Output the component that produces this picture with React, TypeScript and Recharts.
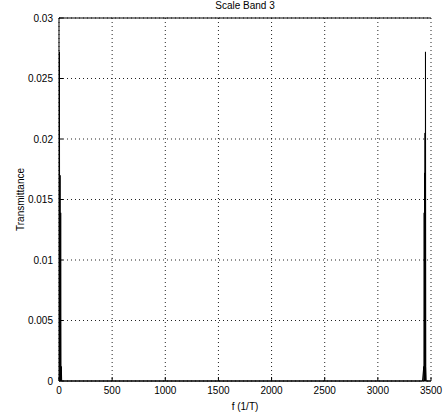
import React from 'react';
import { LineChart, Line, XAxis, YAxis, CartesianGrid } from 'recharts';

const freqs = [0, 4, 7, 10, 13, 16, 19, 22, 25, 35, 1000, 2000, 3000, 3420, 3432, 3434, 3436, 3438, 3440, 3442, 3444, 3446, 3448, 3451, 3455, 3470, 3500];
const transmittance = [0.0012, 0.0272, 0.0, 0.017, 0.0, 0.0139, 0.0, 0.0012, 0.0, 0.0, 0.0, 0.0, 0.0, 0.0, 0.0012, 0.0, 0.0139, 0.0, 0.0172, 0.0, 0.0205, 0.0, 0.0272, 0.0012, 0.0, 0.0, 0.0];
const xTicks = [0, 500, 1000, 1500, 2000, 2500, 3000, 3500];
const yTicks = [0, 0.005, 0.01, 0.015, 0.02, 0.025, 0.03];

const data = freqs.map((f, i) => ({ f, t: transmittance[i] }));

const font = { fontFamily: 'Liberation Sans, Arial, sans-serif', fontSize: 10, fill: '#000' };

export default function App() {
  return (
    <div style={{ position: 'absolute', left: 0, top: 0, width: 443, height: 414, background: '#fff' }}>
      <LineChart width={443} height={414} data={data} margin={{ top: 0, right: 12, left: 0, bottom: 0 }}>
        <CartesianGrid stroke="#222" strokeDasharray="1 3" strokeWidth={1} xAxisId="bottom" yAxisId="left" />
        <XAxis
          xAxisId="bottom"
          dataKey="f"
          type="number"
          domain={[0, 3500]}
          ticks={xTicks}
          height={33}
          stroke="#000"
          tickSize={-4}
          tickMargin={10}
          tick={font}
          interval={0}
          allowDataOverflow
          label={{ value: 'f (1/T)', position: 'insideBottom', offset: 4, style: font }}
        />
        <XAxis
          xAxisId="top"
          orientation="top"
          dataKey="f"
          type="number"
          domain={[0, 3500]}
          ticks={xTicks}
          height={18}
          stroke="#000"
          tickSize={-4}
          tick={false}
          label={{ value: 'Scale Band 3', position: 'insideTop', offset: 2, style: font }}
        />
        <YAxis
          yAxisId="left"
          type="number"
          domain={[0, 0.03]}
          ticks={yTicks}
          width={59}
          stroke="#000"
          tickSize={-4}
          tickMargin={10}
          tick={font}
          interval={0}
          label={{ value: 'Transmittance', angle: -90, position: 'insideLeft', offset: 20, style: { ...font, textAnchor: 'middle' } }}
        />
        <YAxis
          yAxisId="right"
          orientation="right"
          type="number"
          domain={[0, 0.03]}
          ticks={yTicks}
          width={0}
          stroke="#000"
          tickSize={-4}
          tick={false}
        />
        <Line
          xAxisId="bottom"
          yAxisId="left"
          dataKey="t"
          type="linear"
          stroke="#000"
          strokeWidth={1}
          dot={false}
          isAnimationActive={false}
        />
      </LineChart>
    </div>
  );
}
